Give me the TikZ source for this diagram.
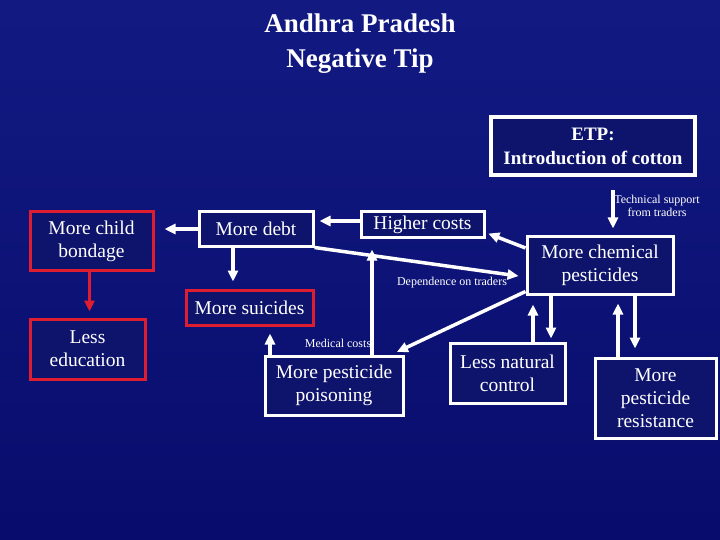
\documentclass[tikz,border=0pt]{standalone}
\usepackage{fontspec}
\setmainfont{Liberation Serif}
\usetikzlibrary{arrows.meta}
\definecolor{slide}{RGB}{18,26,130}
\definecolor{slidedark}{RGB}{8,12,108}
\definecolor{boxfill}{RGB}{14,20,108}
\definecolor{alarm}{RGB}{222,30,48}

\begin{document}
\begin{tikzpicture}[
  x=1pt, y=-1pt,
  font=\fontsize{19.5}{23}\selectfont,
  box/.style={draw=white, fill=boxfill, line width=3pt, text=white, align=center, inner sep=1pt},
  redbox/.style={box, draw=alarm},
  link/.style={-{Triangle[length=11pt,width=10pt]}, line width=3.5pt, draw=white},
  redlink/.style={link, draw=alarm},
  note/.style={text=white, font=\fontsize{12}{13}\selectfont, align=center, inner sep=0pt},
]

\shade[top color=slide, bottom color=slidedark] (0,0) rectangle (720,540);
\useasboundingbox (0,0) rectangle (720,540);

\node[text=white, font=\fontsize{27}{35}\selectfont\bfseries, align=center] (title) at (360,44) {Andhra Pradesh\\Negative Tip};

\node[box, font=\fontsize{19}{24}\selectfont\bfseries, line width=4pt, minimum width=204pt, minimum height=58pt] (etp) at (593,146) {ETP:\\Introduction of cotton};
\node[redbox, minimum width=123pt, minimum height=58pt] (bondage) at (91.5,241) {More child\\bondage};
\node[redbox, minimum width=115pt, minimum height=60pt] (educ) at (87.5,349) {Less\\education};
\node[box, minimum width=114pt, minimum height=34pt] (debt) at (256,229) {More debt};
\node[redbox, minimum width=127pt, minimum height=35pt] (suicides) at (249.5,307.5) {More suicides};
\node[box, minimum width=123pt, minimum height=25pt] (higher) at (422.5,224.5) {Higher costs};
\node[box, minimum width=146pt, minimum height=58pt] (pest) at (600,265) {More chemical\\pesticides};
\node[box, minimum width=138pt, minimum height=59pt] (poison) at (334,385.5) {More pesticide\\poisoning};
\node[box, minimum width=115pt, minimum height=60pt] (natural) at (507.5,373) {Less natural\\control};
\node[box, minimum width=121pt, minimum height=80pt] (resist) at (655.5,398) {More\\pesticide\\resistance};

\node[note] (support) at (657,206) {Technical support\\from traders};
\node[note] (depend) at (452,283) {Dependence on traders};
\node[note] (medical) at (338,343) {Medical costs};

\draw[link, shorten >=10pt] (debt.west) -- (debt.west -| bondage.east);
\draw[redlink, shorten >=6pt] ([xshift=-2pt]bondage.south) -- ([xshift=-2pt]bondage.south |- educ.north);
\draw[link, shorten >=7pt] ([xshift=-23pt]debt.south) -- ([xshift=-23pt]debt.south |- suicides.north);
\draw[link, shorten >=5pt] ([yshift=3.5pt]higher.west) -- ([yshift=3.5pt]higher.west -| debt.east);
\draw[link, shorten <=13pt, shorten >=6pt] ([xshift=20pt]etp.south) -- ([xshift=20pt]etp.south |- pest.north);
\draw[link, shorten >=3pt] ([yshift=17pt]pest.west) -- ([yshift=-8pt]higher.east);
\draw[link, shorten >=7pt] (debt.south east) -- ([yshift=-12pt]pest.west);
\draw[link, shorten >=6pt] ([yshift=4pt]pest.south west) -- ([xshift=-13pt]poison.north east);
\draw[link, shorten >=7pt] ([xshift=-64pt]poison.north) -- ([xshift=-64pt]poison.north |- suicides.south);
\draw[link, shorten >=11pt] ([xshift=38pt]poison.north) -- ([xshift=38pt]poison.north |- higher.south);
\draw[link, shorten >=9pt] ([xshift=25.5pt]natural.north) -- ([xshift=25.5pt]natural.north |- pest.south);
\draw[link, shorten >=3pt] ([xshift=43.5pt]natural.north |- pest.south) -- ([xshift=43.5pt]natural.north);
\draw[link, shorten >=8pt] ([xshift=-37.5pt]resist.north) -- ([xshift=-37.5pt]resist.north |- pest.south);
\draw[link, shorten >=8pt] ([xshift=-20.5pt]resist.north |- pest.south) -- ([xshift=-20.5pt]resist.north);
\end{tikzpicture}
\end{document}
